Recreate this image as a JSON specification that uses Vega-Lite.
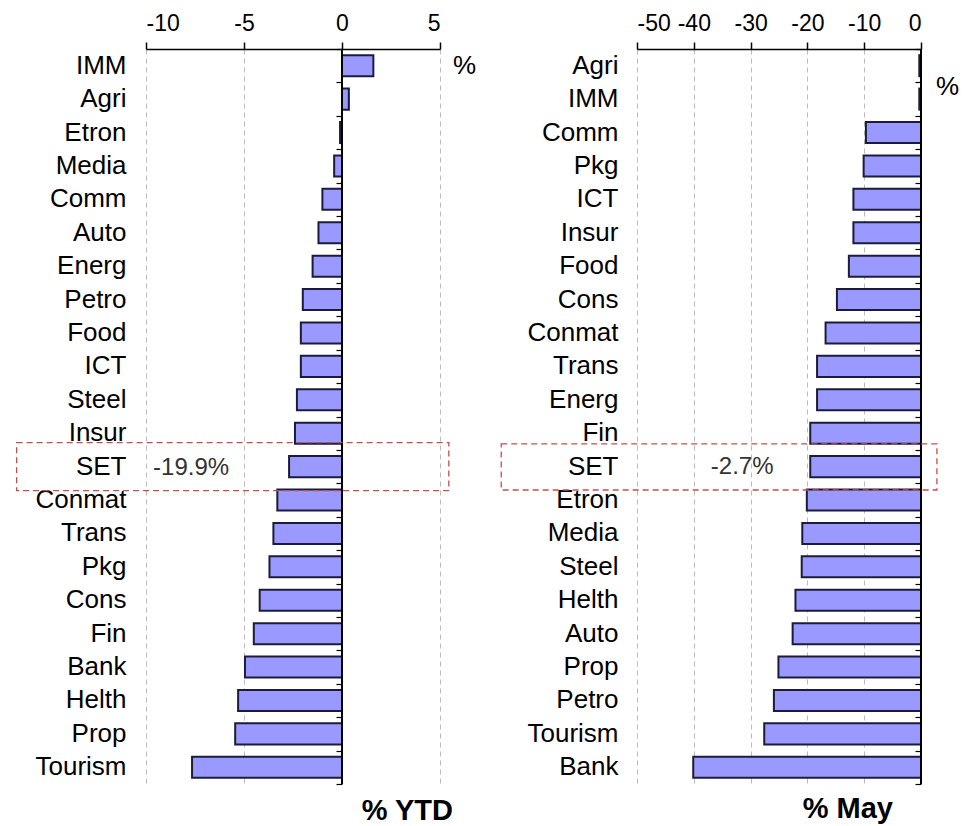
{
  "$schema": "https://vega.github.io/schema/vega-lite/v6.json",
  "background": "white",
  "padding": {"left": 15, "top": 12, "right": 5, "bottom": 0},
  "bounds": "flush",
  "spacing": 197,
  "config": {
    "font": "Liberation Sans",
    "view": {"stroke": null},
    "axis": {"labelFont": "Liberation Sans", "labelColor": "#000"}
  },
  "datasets": {
    "ytd": [
      {"sector": "IMM", "value": 1.6},
      {"sector": "Agri", "value": 0.35},
      {"sector": "Etron", "value": -0.1},
      {"sector": "Media", "value": -0.4},
      {"sector": "Comm", "value": -1.0},
      {"sector": "Auto", "value": -1.2},
      {"sector": "Energ", "value": -1.5},
      {"sector": "Petro", "value": -2.0},
      {"sector": "Food", "value": -2.1},
      {"sector": "ICT", "value": -2.1},
      {"sector": "Steel", "value": -2.3},
      {"sector": "Insur", "value": -2.4},
      {"sector": "SET", "value": -2.7},
      {"sector": "Conmat", "value": -3.3},
      {"sector": "Trans", "value": -3.5},
      {"sector": "Pkg", "value": -3.7},
      {"sector": "Cons", "value": -4.2},
      {"sector": "Fin", "value": -4.5},
      {"sector": "Bank", "value": -4.95},
      {"sector": "Helth", "value": -5.3},
      {"sector": "Prop", "value": -5.45},
      {"sector": "Tourism", "value": -7.65}
    ],
    "may": [
      {"sector": "Agri", "value": -0.3},
      {"sector": "IMM", "value": -0.3},
      {"sector": "Comm", "value": -9.7},
      {"sector": "Pkg", "value": -10.1},
      {"sector": "ICT", "value": -11.9},
      {"sector": "Insur", "value": -11.9},
      {"sector": "Food", "value": -12.7},
      {"sector": "Cons", "value": -14.8},
      {"sector": "Conmat", "value": -16.8},
      {"sector": "Trans", "value": -18.3},
      {"sector": "Energ", "value": -18.3},
      {"sector": "Fin", "value": -19.5},
      {"sector": "SET", "value": -19.5},
      {"sector": "Etron", "value": -20.1},
      {"sector": "Media", "value": -20.9},
      {"sector": "Steel", "value": -21.0},
      {"sector": "Helth", "value": -22.1},
      {"sector": "Auto", "value": -22.6},
      {"sector": "Prop", "value": -25.1},
      {"sector": "Petro", "value": -25.9},
      {"sector": "Tourism", "value": -27.6},
      {"sector": "Bank", "value": -40.1}
    ],
    "zero": [{"x": 0, "r0": 0, "r1": 22}],
    "box_l": [{"x0": -16.6, "x1": 5.45, "r0": 11.78, "r1": 13.22}],
    "box_r": [{"x0": -73.9, "x1": 2.8, "r0": 11.82, "r1": 13.2}],
    "lab_l": [{"label": "-19.9%", "x": -9.64, "r": 12.55}],
    "lab_r": [{"label": "-2.7%", "x": -37.0, "r": 12.5}],
    "pct_l": [{"label": "%", "x": 5.66, "r": 0.5}],
    "pct_r": [{"label": "%", "x": 2.64, "r": 1.15}]
  },
  "hconcat": [
    {
      "width": 294,
      "height": 735,
      "title": {"text": "% YTD", "orient": "bottom", "anchor": "end", "frame": "group", "dx": 13, "offset": 12, "fontSize": 29, "fontWeight": "bold", "color": "#000", "font": "Liberation Sans"},
      "resolve": {"scale": {"y": "independent"}, "axis": {"y": "independent"}},
      "layer": [
        {
          "data": {"name": "ytd"},
          "mark": {"type": "bar", "fill": "#9999ff", "stroke": "#1c1c3a", "strokeWidth": 2},
          "encoding": {
            "y": {"field": "sector", "type": "nominal", "sort": null, "scale": {"paddingInner": 0.37, "paddingOuter": 0.185},
              "axis": {"orient": "left", "title": null, "ticks": false, "domain": false, "labelFontSize": 26, "labelPadding": 20, "labelColor": "#000"}},
            "x": {"field": "value", "type": "quantitative", "title": null, "scale": {"domain": [-10, 5], "nice": false, "zero": false},
              "axis": {"orient": "top", "title": null, "values": [-10, -5, 0, 5], "labelExpr": "'' + datum.value", "grid": true, "gridDash": [5, 4], "gridColor": "#bbbbbb", "gridWidth": 1, "domainColor": "#000", "domainWidth": 1.5, "tickColor": "#000", "tickSize": 7, "tickWidth": 1.5, "labelFontSize": 23, "labelPadding": 7, "labelColor": "#000"}}
          }
        },
        {
          "data": {"name": "zero"},
          "mark": {"type": "rule", "stroke": "#000", "strokeWidth": 2},
          "encoding": {
            "x": {"field": "x", "type": "quantitative", "title": null},
            "y": {"field": "r0", "type": "quantitative", "scale": {"domain": [0, 22], "reverse": true, "nice": false, "zero": false},
              "axis": {"orient": "left", "offset": -196, "title": null, "values": [0,1,2,3,4,5,6,7,8,9,10,11,12,13,14,15,16,17,18,19,20,21,22], "labels": false, "domain": false, "grid": false, "ticks": true, "tickSize": 6, "tickColor": "#000", "tickWidth": 1.2}},
            "y2": {"field": "r1"}
          }
        },
        {
          "data": {"name": "box_l"},
          "mark": {"type": "rect", "fill": "transparent", "stroke": "#c0504d", "strokeDash": [6, 4], "strokeWidth": 1.3},
          "encoding": {
            "x": {"field": "x0", "type": "quantitative", "title": null},
            "x2": {"field": "x1"},
            "y": {"field": "r0", "type": "quantitative", "scale": {"domain": [0, 22], "reverse": true, "nice": false, "zero": false}, "axis": null},
            "y2": {"field": "r1"}
          }
        },
        {
          "data": {"name": "lab_l"},
          "mark": {"type": "text", "align": "left", "baseline": "middle", "fontSize": 24, "color": "#333", "font": "Liberation Sans"},
          "encoding": {
            "x": {"field": "x", "type": "quantitative", "title": null},
            "y": {"field": "r", "type": "quantitative", "scale": {"domain": [0, 22], "reverse": true, "nice": false, "zero": false}, "axis": null},
            "text": {"field": "label"}
          }
        },
        {
          "data": {"name": "pct_l"},
          "mark": {"type": "text", "align": "left", "baseline": "middle", "fontSize": 26, "color": "#000", "font": "Liberation Sans"},
          "encoding": {
            "x": {"field": "x", "type": "quantitative", "title": null},
            "y": {"field": "r", "type": "quantitative", "scale": {"domain": [0, 22], "reverse": true, "nice": false, "zero": false}, "axis": null},
            "text": {"field": "label"}
          }
        }
      ]
    },
    {
      "width": 284,
      "height": 735,
      "title": {"text": "% May", "orient": "bottom", "anchor": "end", "frame": "group", "dx": -28, "offset": 10, "fontSize": 29, "fontWeight": "bold", "color": "#000", "font": "Liberation Sans"},
      "resolve": {"scale": {"y": "independent"}, "axis": {"y": "independent"}},
      "layer": [
        {
          "data": {"name": "may"},
          "mark": {"type": "bar", "fill": "#9999ff", "stroke": "#1c1c3a", "strokeWidth": 2},
          "encoding": {
            "y": {"field": "sector", "type": "nominal", "sort": null, "scale": {"paddingInner": 0.37, "paddingOuter": 0.185},
              "axis": {"orient": "left", "title": null, "ticks": false, "domain": false, "labelFontSize": 26, "labelPadding": 19, "labelColor": "#000"}},
            "x": {"field": "value", "type": "quantitative", "title": null, "scale": {"domain": [-50, 0], "nice": false, "zero": false},
              "axis": {"orient": "top", "title": null, "values": [-50, -40, -30, -20, -10, 0], "labelExpr": "'' + datum.value", "grid": true, "gridDash": [5, 4], "gridColor": "#bbbbbb", "gridWidth": 1, "domainColor": "#000", "domainWidth": 1.5, "tickColor": "#000", "tickSize": 7, "tickWidth": 1.5, "labelFontSize": 23, "labelPadding": 7, "labelColor": "#000"}}
          }
        },
        {
          "data": {"name": "zero"},
          "mark": {"type": "rule", "stroke": "#000", "strokeWidth": 2},
          "encoding": {
            "x": {"field": "x", "type": "quantitative", "title": null},
            "y": {"field": "r0", "type": "quantitative", "scale": {"domain": [0, 22], "reverse": true, "nice": false, "zero": false},
              "axis": {"orient": "left", "offset": -284, "title": null, "values": [0,1,2,3,4,5,6,7,8,9,10,11,12,13,14,15,16,17,18,19,20,21,22], "labels": false, "domain": false, "grid": false, "ticks": true, "tickSize": 6, "tickColor": "#000", "tickWidth": 1.2}},
            "y2": {"field": "r1"}
          }
        },
        {
          "data": {"name": "box_r"},
          "mark": {"type": "rect", "fill": "transparent", "stroke": "#c0504d", "strokeDash": [6, 4], "strokeWidth": 1.3},
          "encoding": {
            "x": {"field": "x0", "type": "quantitative", "title": null},
            "x2": {"field": "x1"},
            "y": {"field": "r0", "type": "quantitative", "scale": {"domain": [0, 22], "reverse": true, "nice": false, "zero": false}, "axis": null},
            "y2": {"field": "r1"}
          }
        },
        {
          "data": {"name": "lab_r"},
          "mark": {"type": "text", "align": "left", "baseline": "middle", "fontSize": 24, "color": "#333", "font": "Liberation Sans"},
          "encoding": {
            "x": {"field": "x", "type": "quantitative", "title": null},
            "y": {"field": "r", "type": "quantitative", "scale": {"domain": [0, 22], "reverse": true, "nice": false, "zero": false}, "axis": null},
            "text": {"field": "label"}
          }
        },
        {
          "data": {"name": "pct_r"},
          "mark": {"type": "text", "align": "left", "baseline": "middle", "fontSize": 26, "color": "#000", "font": "Liberation Sans"},
          "encoding": {
            "x": {"field": "x", "type": "quantitative", "title": null},
            "y": {"field": "r", "type": "quantitative", "scale": {"domain": [0, 22], "reverse": true, "nice": false, "zero": false}, "axis": null},
            "text": {"field": "label"}
          }
        }
      ]
    }
  ]
}
